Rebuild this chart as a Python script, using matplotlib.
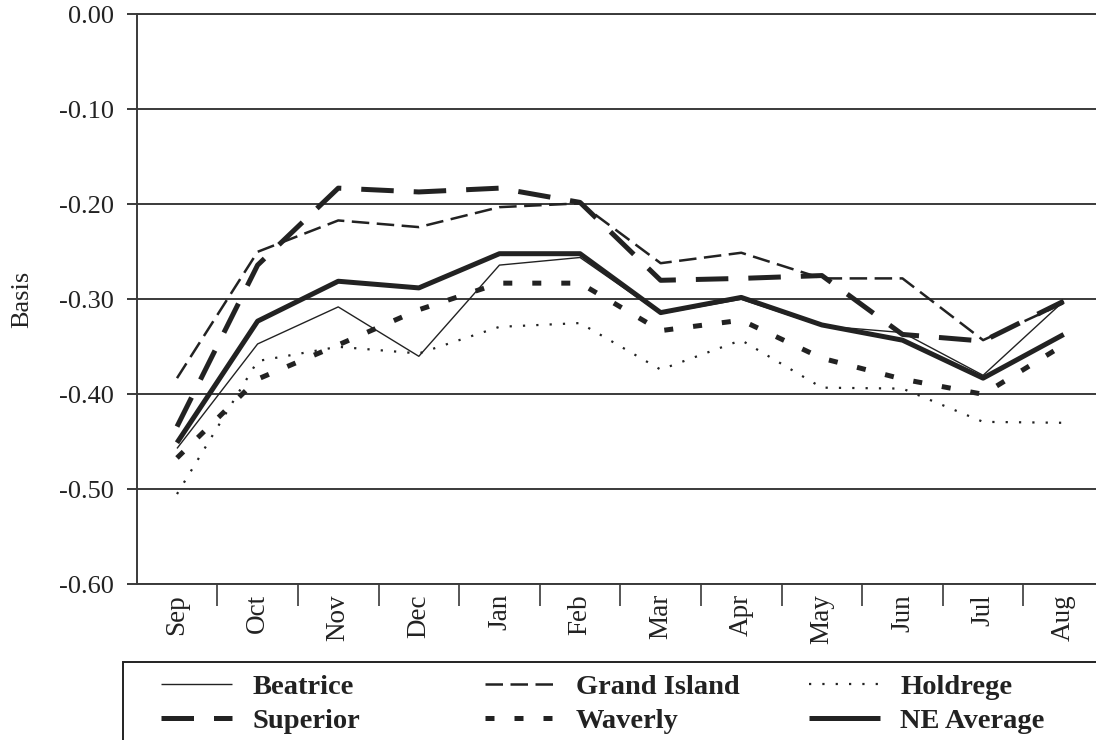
import matplotlib
matplotlib.use("Agg")
import matplotlib.pyplot as plt
from matplotlib.patches import Rectangle
import numpy as np

months = ["Sep", "Oct", "Nov", "Dec", "Jan", "Feb", "Mar", "Apr", "May", "Jun", "Jul", "Aug"]
beatrice = [-0.457, -0.347, -0.308, -0.360, -0.264, -0.256, -0.315, -0.300, -0.328, -0.335, -0.380, -0.302]
grand_island = [-0.383, -0.250, -0.217, -0.224, -0.203, -0.199, -0.262, -0.251, -0.278, -0.278, -0.343, -0.304]
holdrege = [-0.505, -0.365, -0.350, -0.357, -0.329, -0.325, -0.374, -0.343, -0.393, -0.394, -0.429, -0.430]
superior = [-0.434, -0.264, -0.183, -0.187, -0.183, -0.198, -0.280, -0.278, -0.275, -0.337, -0.344, -0.302]
waverly = [-0.467, -0.384, -0.348, -0.311, -0.283, -0.283, -0.333, -0.322, -0.362, -0.384, -0.400, -0.348]
ne_average = [-0.451, -0.323, -0.281, -0.288, -0.252, -0.252, -0.314, -0.298, -0.327, -0.343, -0.383, -0.337]
yticks = [0.0, -0.1, -0.2, -0.3, -0.4, -0.5, -0.6]

plt.rcParams['font.family'] = ['Liberation Serif', 'DejaVu Serif']

W, H = 1096, 740
fig = plt.figure(figsize=(W / 100, H / 100), dpi=100)
left, right, top, bottom = 136.7, 1104, 14.3, 584.3
ax = fig.add_axes([left / W, 1 - bottom / H, (right - left) / W, (bottom - top) / H])

C = "#222222"
GC = "#3a3a3a"
x = np.arange(len(months))

series = [
    ("Beatrice", beatrice, dict(lw=1.0, ls="-")),
    ("Superior", superior, dict(lw=3.6, ls=(0, (6.5, 4)))),
    ("Grand Island", grand_island, dict(lw=1.8, ls=(0, (7, 3)))),
    ("Waverly", waverly, dict(lw=3.6, ls=(0, (1.8, 4)))),
    ("Holdrege", holdrege, dict(lw=1.6, ls=(0, (1, 5)))),
    ("NE Average", ne_average, dict(lw=3.6, ls="-")),
]
handles = []
for name, vals, st in series:
    h, = ax.plot(x, vals, color=C, dash_capstyle="butt", solid_capstyle="butt",
                 label=name, zorder=3, **st)
    handles.append(h)

ax.set_xlim(-0.5, 11.5)
ax.set_ylim(-0.6, 0.0)
ax.set_yticks(yticks)
ax.set_yticklabels([f"{v:.2f}" for v in yticks])
ax.yaxis.grid(True, color=GC, lw=1.4, zorder=1)
ax.set_axisbelow(True)

ax.set_xticks(x)
ax.set_xticklabels(months, rotation=90, va="top", ha="center")
ax.set_xticks(np.arange(0.5, 11, 1.0), minor=True)
ax.tick_params(axis="x", which="major", length=0, pad=7, labelsize=19.5, colors=C)
ax.tick_params(axis="x", which="minor", length=15.8, width=1.2, direction="out", color=GC)
ax.tick_params(axis="y", which="major", length=7.2, width=1.4, direction="out", pad=9,
               labelsize=19, color=GC, labelcolor=C)

for s in ["left", "bottom", "top"]:
    ax.spines[s].set_color(GC)
    ax.spines[s].set_linewidth(1.4)
ax.spines["right"].set_visible(False)

fig.text(22 / W, 1 - 299 / H, "Basis", rotation=90, ha="center", va="center",
         fontsize=19, color=C)

# legend frame
fig.patches.append(Rectangle((123 / W, -0.1), 1.2, 1 - 662 / H + 0.1,
                             transform=fig.transFigure, fill=False,
                             edgecolor=C, lw=1.4))
col_x = [161, 485, 809]
for i, cx in enumerate(col_x):
    leg = fig.legend(handles=handles[2 * i:2 * i + 2], loc="center left",
                     bbox_to_anchor=(cx / W, 1 - 704 / H), frameon=False,
                     borderpad=0, borderaxespad=0, handlelength=2.5,
                     handletextpad=0.7, labelspacing=0.28,
                     prop=dict(family=['Liberation Serif'], weight="bold", size=20.5))
    for t in leg.get_texts():
        t.set_color(C)

fig.savefig("out.png", dpi=100)
